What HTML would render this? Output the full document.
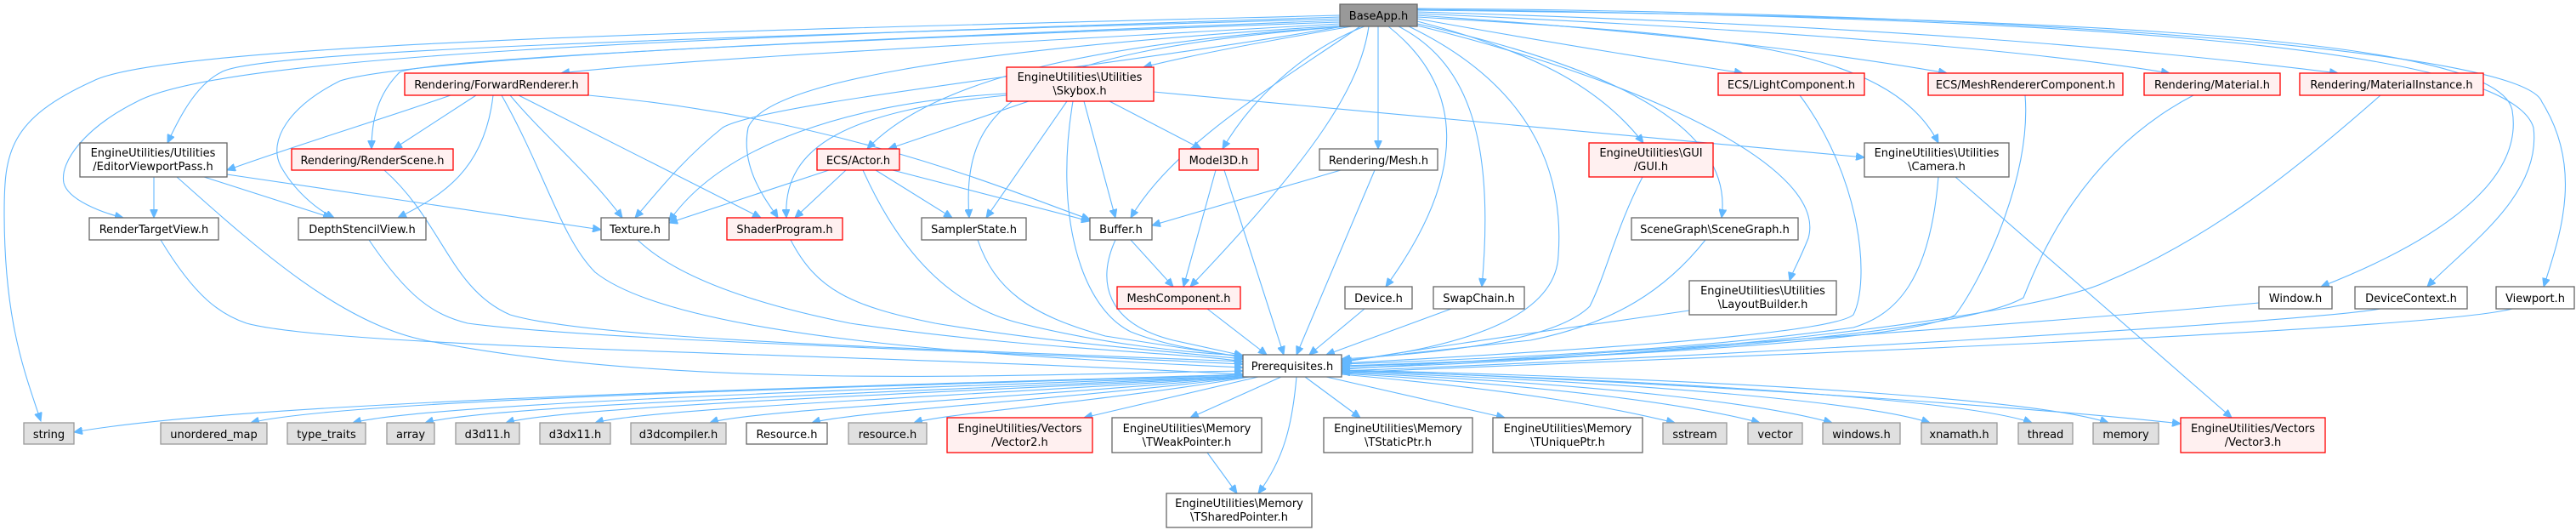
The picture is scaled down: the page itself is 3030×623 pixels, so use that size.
<!DOCTYPE html>
<html><head><meta charset="utf-8"><style>
html,body{margin:0;padding:0;background:#fff;}
svg{display:block;}
text{font-family:"DejaVu Sans","Liberation Sans",sans-serif;font-size:13px;fill:#000;}
.e{fill:none;stroke:#63b8ff;stroke-width:1.1;marker-end:url(#a);}
.n{fill:#fff;stroke:#666;stroke-width:1.3;}
.r{fill:#fff0f0;stroke:#ff0000;stroke-width:1.3;}
.g{fill:#e0e0e0;stroke:#999;stroke-width:1.3;}
</style></head><body>
<svg width="3030" height="623" viewBox="0 0 3030 623" xmlns="http://www.w3.org/2000/svg">
<defs><marker id="a" markerWidth="11" markerHeight="9" refX="10" refY="4.5" orient="auto" markerUnits="userSpaceOnUse"><path d="M0,0 L10,4.5 L0,9 z" fill="#63b8ff" stroke="#63b8ff"/></marker></defs>
<g>
<!-- BaseApp edges -->
<path class="e" d="M1576,18 C900,35 200,50 110,95 C10,140 5,180 5,250 C5,380 30,440 48,495"/>
<path class="e" d="M1576,20 C800,45 260,65 160,120 C100,150 70,190 75,215 C80,235 120,250 145,256"/>
<path class="e" d="M1576,22 C800,45 300,60 260,85 C230,100 210,140 197,168"/>
<path class="e" d="M1576,24 C900,50 480,70 400,95 C340,125 315,165 330,195 C345,222 370,245 393,256"/>
<path class="e" d="M1576,26 C900,50 500,70 470,85 C445,110 437,140 437,175"/>
<path class="e" d="M1576,28 C1100,55 800,70 660,86"/>
<path class="e" d="M1580,31 C1300,80 900,120 850,150 C800,190 770,230 747,256"/>
<path class="e" d="M1578,30 C1100,60 900,100 880,150 C870,200 905,240 915,256"/>
<path class="e" d="M1582,31 C1300,50 1100,90 1020,175"/>
<path class="e" d="M1586,31 C1200,60 1130,120 1140,256"/>
<path class="e" d="M1590,31 C1450,55 1380,70 1345,79"/>
<path class="e" d="M1600,31 C1500,100 1380,170 1330,256"/>
<path class="e" d="M1605,31 C1530,60 1470,120 1438,175"/>
<path class="e" d="M1610,31 C1600,100 1550,180 1400,337"/>
<path class="e" d="M1621,31 L1621,175"/>
<path class="e" d="M1633,31 C1720,100 1730,200 1630,337"/>
<path class="e" d="M1645,31 C1720,70 1760,150 1743,337"/>
<path class="e" d="M1657,31 C1800,100 1840,200 1833,300 C1830,380 1700,410 1580,425"/>
<path class="e" d="M1667,25 C1800,60 1880,100 1933,168"/>
<path class="e" d="M1667,28 C1900,80 2040,150 2025,256"/>
<path class="e" d="M1667,30 C1950,100 2150,200 2127,280 C2115,310 2108,320 2105,330"/>
<path class="e" d="M1667,22 C1850,55 1980,75 2050,86"/>
<path class="e" d="M1667,20 C2000,40 2220,50 2280,168"/>
<path class="e" d="M1667,18 C2000,40 2200,70 2290,86"/>
<path class="e" d="M1667,16 C2100,35 2400,60 2552,86"/>
<path class="e" d="M1667,14 C2200,30 2500,55 2750,86"/>
<path class="e" d="M1667,12 C2400,20 2940,40 2955,130 C2970,220 2850,290 2730,337"/>
<path class="e" d="M1667,11 C2400,20 2950,50 2980,150 C2990,230 2900,290 2855,337"/>
<path class="e" d="M1667,10 C2400,15 2970,60 2990,120 C3040,200 3010,280 2992,337"/>
<!-- ForwardRenderer -->
<path class="e" d="M530,112 C450,140 350,170 267,200"/>
<path class="e" d="M560,112 L463,175"/>
<path class="e" d="M580,112 C570,200 520,230 468,256"/>
<path class="e" d="M600,112 C640,160 690,200 732,256"/>
<path class="e" d="M610,112 L895,256"/>
<path class="e" d="M692,112 C1000,140 1200,230 1282,258"/>
<path class="e" d="M590,112 C640,200 660,280 700,320 C800,400 1200,420 1462,432"/>
<!-- EditorViewportPass -->
<path class="e" d="M181,208 L181,256"/>
<path class="e" d="M240,208 L390,256"/>
<path class="e" d="M267,205 L707,270"/>
<path class="e" d="M208,208 C300,290 400,380 500,400 C800,460 1200,440 1462,436"/>
<!-- misc to Prereq -->
<path class="e" d="M452,200 C520,260 530,340 600,370 C700,400 1100,410 1462,425"/>
<path class="e" d="M189,282 C230,350 260,370 290,380 C400,410 1000,415 1462,440"/>
<path class="e" d="M434,282 C480,350 510,370 550,380 C700,400 1100,410 1462,428"/>
<path class="e" d="M750,282 C800,330 900,360 1000,380 C1200,410 1400,415 1462,425"/>
<path class="e" d="M930,282 C960,340 1000,360 1100,380 C1250,405 1400,415 1462,422"/>
<!-- Skybox -->
<path class="e" d="M1184,110 C1000,120 850,170 787,260"/>
<path class="e" d="M1184,112 C1000,130 920,170 925,256"/>
<path class="e" d="M1210,119 L1045,175"/>
<path class="e" d="M1255,119 L1160,256"/>
<path class="e" d="M1275,119 L1312,256"/>
<path class="e" d="M1305,119 L1413,175"/>
<path class="e" d="M1262,119 C1240,250 1270,360 1330,390 C1380,410 1440,415 1462,420"/>
<path class="e" d="M1357,108 L2193,185"/>
<!-- Actor -->
<path class="e" d="M975,200 L787,262"/>
<path class="e" d="M995,200 L935,256"/>
<path class="e" d="M1030,200 L1120,256"/>
<path class="e" d="M1050,200 L1282,260"/>
<path class="e" d="M1015,200 C1060,300 1120,360 1200,380 C1300,405 1400,415 1462,418"/>
<path class="e" d="M1150,282 C1170,340 1210,370 1300,395 L1462,420"/>
<path class="e" d="M1330,282 L1380,337"/>
<path class="e" d="M1312,282 C1290,330 1300,380 1380,400 L1462,418"/>
<path class="e" d="M1430,200 L1392,337"/>
<path class="e" d="M1440,200 L1510,417"/>
<path class="e" d="M1420,363 L1490,417"/>
<path class="e" d="M1577,200 L1355,265"/>
<path class="e" d="M1617,200 L1525,417"/>
<path class="e" d="M1605,363 L1540,417"/>
<path class="e" d="M1707,363 L1560,417"/>
<!-- right side to Prereq -->
<path class="e" d="M1932,208 C1900,270 1890,320 1870,360 C1830,400 1700,415 1578,422"/>
<path class="e" d="M2006,282 C1960,340 1900,380 1800,400 L1578,424"/>
<path class="e" d="M1987,365 C1850,385 1700,405 1578,426"/>
<path class="e" d="M2117,112 C2190,210 2200,330 2180,370 C2150,395 1800,415 1578,427"/>
<path class="e" d="M2280,208 C2270,330 2230,370 2180,385 C2000,410 1800,420 1578,428"/>
<path class="e" d="M2300,208 L2625,491"/>
<path class="e" d="M2382,112 C2390,210 2330,330 2300,370 C2250,400 1900,420 1578,430"/>
<path class="e" d="M2580,112 C2450,180 2400,300 2380,350 C2300,395 1900,420 1578,431"/>
<path class="e" d="M2800,112 C2700,200 2600,280 2480,330 C2400,370 2000,420 1578,433"/>
<path class="e" d="M2657,356 C2400,380 1900,415 1578,434"/>
<path class="e" d="M2800,363 C2700,380 2000,420 1578,436"/>
<path class="e" d="M2955,363 C2850,390 2000,420 1578,438"/>
<!-- Prereq outgoing -->
<path class="e" d="M1462,440 C1000,455 300,470 87,508"/>
<path class="e" d="M1462,441 C1000,455 400,470 295,497"/>
<path class="e" d="M1462,442 C1000,458 500,475 415,497"/>
<path class="e" d="M1462,442 C1100,460 580,475 500,497"/>
<path class="e" d="M1462,443 C1100,462 660,478 595,497"/>
<path class="e" d="M1464,443 C1150,465 760,480 700,497"/>
<path class="e" d="M1466,443 C1200,468 880,482 835,497"/>
<path class="e" d="M1468,443 C1250,470 1000,484 955,497"/>
<path class="e" d="M1470,443 C1300,472 1110,486 1075,497"/>
<path class="e" d="M1480,443 L1275,491"/>
<path class="e" d="M1507,443 L1400,491"/>
<path class="e" d="M1525,443 C1520,500 1510,540 1480,580"/>
<path class="e" d="M1420,532 L1455,580"/>
<path class="e" d="M1535,443 L1600,491"/>
<path class="e" d="M1560,443 L1770,491"/>
<path class="e" d="M1578,440 C1800,460 1900,480 1970,497"/>
<path class="e" d="M1578,439 C1850,455 2000,478 2070,497"/>
<path class="e" d="M1578,438 C1900,452 2080,476 2155,497"/>
<path class="e" d="M1578,437 C1950,450 2200,474 2270,497"/>
<path class="e" d="M1578,436 C2000,448 2320,472 2390,497"/>
<path class="e" d="M1578,435 C2050,446 2400,470 2480,497"/>
<path class="e" d="M1578,435 C2000,450 2400,480 2565,498"/>
</g>
<!-- nodes -->
<rect x="1576" y="5" width="91" height="26" fill="#999" stroke="#666" stroke-width="1.3"/><text x="1621.5" y="23" text-anchor="middle">BaseApp.h</text>
<rect class="r" x="476" y="86" width="216" height="26"/><text x="584" y="104" text-anchor="middle">Rendering/ForwardRenderer.h</text>
<rect class="n" x="94" y="168" width="173" height="40"/><text x="180" y="184" text-anchor="middle">EngineUtilities/Utilities</text><text x="180" y="200" text-anchor="middle">/EditorViewportPass.h</text>
<rect class="r" x="343" y="175" width="190" height="25"/><text x="438" y="193" text-anchor="middle">Rendering/RenderScene.h</text>
<rect class="n" x="105" y="256" width="152" height="26"/><text x="181" y="274" text-anchor="middle">RenderTargetView.h</text>
<rect class="n" x="351" y="256" width="150" height="26"/><text x="426" y="274" text-anchor="middle">DepthStencilView.h</text>
<rect class="n" x="707" y="256" width="80" height="26"/><text x="747" y="274" text-anchor="middle">Texture.h</text>
<rect class="r" x="855" y="256" width="136" height="26"/><text x="923" y="274" text-anchor="middle">ShaderProgram.h</text>
<rect class="n" x="1084" y="256" width="123" height="26"/><text x="1145.5" y="274" text-anchor="middle">SamplerState.h</text>
<rect class="n" x="1282" y="256" width="73" height="26"/><text x="1318.5" y="274" text-anchor="middle">Buffer.h</text>
<rect class="r" x="961" y="175" width="97" height="25"/><text x="1009.5" y="193" text-anchor="middle">ECS/Actor.h</text>
<rect class="r" x="1184" y="79" width="173" height="40"/><text x="1270" y="95" text-anchor="middle">EngineUtilities\Utilities</text><text x="1270" y="111" text-anchor="middle">\Skybox.h</text>
<rect class="r" x="1387" y="175" width="93" height="25"/><text x="1433.5" y="193" text-anchor="middle">Model3D.h</text>
<rect class="r" x="1314" y="337" width="145" height="26"/><text x="1386.5" y="355" text-anchor="middle">MeshComponent.h</text>
<rect class="n" x="1462" y="417" width="116" height="26"/><text x="1520" y="435" text-anchor="middle">Prerequisites.h</text>
<rect class="n" x="1552" y="175" width="139" height="25"/><text x="1621.5" y="193" text-anchor="middle">Rendering/Mesh.h</text>
<rect class="n" x="1582" y="337" width="79" height="26"/><text x="1621.5" y="355" text-anchor="middle">Device.h</text>
<rect class="n" x="1686" y="337" width="107" height="26"/><text x="1739.5" y="355" text-anchor="middle">SwapChain.h</text>
<rect class="r" x="1869" y="168" width="146" height="40"/><text x="1942" y="184" text-anchor="middle">EngineUtilities\GUI</text><text x="1942" y="200" text-anchor="middle">/GUI.h</text>
<rect class="r" x="2021" y="86" width="172" height="26"/><text x="2107" y="104" text-anchor="middle">ECS/LightComponent.h</text>
<rect class="r" x="2268" y="86" width="229" height="26"/><text x="2382.5" y="104" text-anchor="middle">ECS/MeshRendererComponent.h</text>
<rect class="n" x="2193" y="168" width="170" height="40"/><text x="2278" y="184" text-anchor="middle">EngineUtilities\Utilities</text><text x="2278" y="200" text-anchor="middle">\Camera.h</text>
<rect class="n" x="1919" y="256" width="196" height="26"/><text x="2017" y="274" text-anchor="middle">SceneGraph\SceneGraph.h</text>
<rect class="n" x="1987" y="330" width="173" height="40"/><text x="2073.5" y="346" text-anchor="middle">EngineUtilities\Utilities</text><text x="2073.5" y="362" text-anchor="middle">\LayoutBuilder.h</text>
<rect class="r" x="2522" y="86" width="160" height="26"/><text x="2602" y="104" text-anchor="middle">Rendering/Material.h</text>
<rect class="r" x="2705" y="86" width="216" height="26"/><text x="2813" y="104" text-anchor="middle">Rendering/MaterialInstance.h</text>
<rect class="n" x="2657" y="337" width="86" height="26"/><text x="2700" y="355" text-anchor="middle">Window.h</text>
<rect class="n" x="2770" y="337" width="132" height="26"/><text x="2836" y="355" text-anchor="middle">DeviceContext.h</text>
<rect class="n" x="2936" y="337" width="92" height="26"/><text x="2982" y="355" text-anchor="middle">Viewport.h</text>
<!-- bottom row -->
<rect class="g" x="28" y="497" width="59" height="25"/><text x="57.5" y="515" text-anchor="middle">string</text>
<rect class="g" x="189" y="497" width="125" height="25"/><text x="251.5" y="515" text-anchor="middle">unordered_map</text>
<rect class="g" x="338" y="497" width="92" height="25"/><text x="384" y="515" text-anchor="middle">type_traits</text>
<rect class="g" x="455" y="497" width="56" height="25"/><text x="483" y="515" text-anchor="middle">array</text>
<rect class="g" x="536" y="497" width="75" height="25"/><text x="573.5" y="515" text-anchor="middle">d3d11.h</text>
<rect class="g" x="635" y="497" width="83" height="25"/><text x="676.5" y="515" text-anchor="middle">d3dx11.h</text>
<rect class="g" x="742" y="497" width="112" height="25"/><text x="798" y="515" text-anchor="middle">d3dcompiler.h</text>
<rect class="n" x="878" y="497" width="95" height="25"/><text x="925.5" y="515" text-anchor="middle">Resource.h</text>
<rect class="g" x="998" y="497" width="92" height="25"/><text x="1044" y="515" text-anchor="middle">resource.h</text>
<rect class="r" x="1114" y="491" width="171" height="41"/><text x="1199.5" y="508" text-anchor="middle">EngineUtilities/Vectors</text><text x="1199.5" y="524" text-anchor="middle">/Vector2.h</text>
<rect class="n" x="1308" y="491" width="176" height="41"/><text x="1396" y="508" text-anchor="middle">EngineUtilities\Memory</text><text x="1396" y="524" text-anchor="middle">\TWeakPointer.h</text>
<rect class="n" x="1372" y="580" width="171" height="40"/><text x="1457.5" y="596" text-anchor="middle">EngineUtilities\Memory</text><text x="1457.5" y="612" text-anchor="middle">\TSharedPointer.h</text>
<rect class="n" x="1557" y="491" width="175" height="41"/><text x="1644.5" y="508" text-anchor="middle">EngineUtilities\Memory</text><text x="1644.5" y="524" text-anchor="middle">\TStaticPtr.h</text>
<rect class="n" x="1756" y="491" width="176" height="41"/><text x="1844" y="508" text-anchor="middle">EngineUtilities\Memory</text><text x="1844" y="524" text-anchor="middle">\TUniquePtr.h</text>
<rect class="g" x="1956" y="497" width="75" height="25"/><text x="1993.5" y="515" text-anchor="middle">sstream</text>
<rect class="g" x="2056" y="497" width="64" height="25"/><text x="2088" y="515" text-anchor="middle">vector</text>
<rect class="g" x="2144" y="497" width="91" height="25"/><text x="2189.5" y="515" text-anchor="middle">windows.h</text>
<rect class="g" x="2260" y="497" width="89" height="25"/><text x="2304.5" y="515" text-anchor="middle">xnamath.h</text>
<rect class="g" x="2374" y="497" width="64" height="25"/><text x="2406" y="515" text-anchor="middle">thread</text>
<rect class="g" x="2462" y="497" width="77" height="25"/><text x="2500.5" y="515" text-anchor="middle">memory</text>
<rect class="r" x="2565" y="491" width="170" height="41"/><text x="2650" y="508" text-anchor="middle">EngineUtilities/Vectors</text><text x="2650" y="524" text-anchor="middle">/Vector3.h</text>
</svg>
</body></html>
